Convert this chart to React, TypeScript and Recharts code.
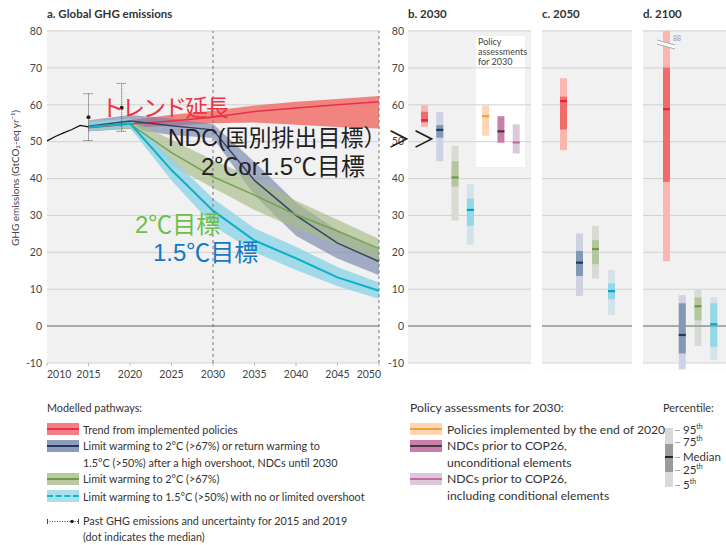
import React from 'react';
import {
  ComposedChart,
  Area,
  Line,
  Bar,
  Cell,
  Scatter,
  ErrorBar,
  XAxis,
  YAxis,
  CartesianGrid,
  ReferenceLine,
} from 'recharts';

// panel a: modelled pathways (GtCO2-eq/yr), 5-year steps
const pathwayYears = [2015, 2020, 2025, 2030, 2035, 2040, 2045, 2050];

const trendMid = [53.8, 54.8, 55.6, 56.6, 58.2, 59.1, 60.0, 60.8];
const trendLow = [52.8, 53.8, 54.3, 55.0, 55.2, 54.6, 54.0, 53.6];
const trendHigh = [54.6, 55.8, 57.3, 58.4, 59.8, 60.8, 61.6, 62.4];

const ndcMid = [54.2, 55.6, 54.3, 53.2, 39.5, 30.0, 22.5, 17.5];
const ndcLow = [52.8, 53.5, 51.8, 51.0, 35.5, 24.5, 18.3, 13.8];
const ndcHigh = [55.8, 57.2, 56.3, 54.8, 44.5, 33.5, 26.0, 20.8];

const twoMid = [54.0, 54.8, 47.0, 40.5, 35.5, 30.2, 25.8, 21.0];
const twoLow = [52.8, 53.5, 43.5, 37.5, 31.5, 26.5, 22.0, 17.5];
const twoHigh = [55.2, 56.0, 50.5, 45.0, 40.0, 34.0, 28.8, 23.6];

const c15Mid = [54.0, 55.0, 42.3, 31.3, 23.2, 18.4, 13.2, 9.6];
const c15Low = [52.8, 53.8, 39.5, 27.3, 20.0, 15.2, 10.8, 7.4];
const c15High = [55.5, 56.2, 45.5, 34.6, 26.5, 21.5, 16.0, 11.8];

// historical emissions
const histYears = [2010, 2011, 2012, 2013, 2014, 2015];
const histValues = [50.2, 51.4, 52.4, 53.3, 54.4, 54.0];

// past GHG emissions with uncertainty
const pastYears = [2015, 2019];
const pastMedian = [56.6, 59.2];
const pastLow = [50.3, 52.8];
const pastHigh = [63.0, 65.8];

const xTicks = [2010, 2015, 2020, 2025, 2030, 2035, 2040, 2045, 2050];
const yTicks = [-10, 0, 10, 20, 30, 40, 50, 60, 70, 80];

// panel b: 2030
const names2030 = ['trend', 'ndc', 'c2', 'c15', 'policies', 'ndcUncond', 'ndcCond'];
const p5_2030 = [54.0, 44.7, 28.6, 22.1, 51.6, 49.7, 46.8];
const p25_2030 = [55.2, 51.1, 37.8, 27.2, null, null, null];
const med_2030 = [55.8, 53.2, 40.3, 31.5, 56.9, 52.8, 49.8];
const p75_2030 = [58.1, 54.5, 44.7, 34.6, null, null, null];
const p95_2030 = [59.9, 58.1, 48.9, 38.5, 59.9, 56.9, 54.7];

// panel c: 2050
const names2050 = ['trend', 'ndc', 'c2', 'c15'];
const p5_2050 = [47.7, 8.2, 12.9, 3.0];
const p25_2050 = [53.3, 13.6, 16.8, 7.3];
const med_2050 = [61.0, 17.2, 20.9, 9.5];
const p75_2050 = [62.2, 20.4, 23.3, 11.6];
const p95_2050 = [67.2, 25.1, 27.2, 15.2];

// panel d: 2100
const names2100 = ['trend', 'ndc', 'c2', 'c15'];
const p5_2100 = [17.6, -11.7, -5.4, -9.2];
const p25_2100 = [39.1, -7.4, 1.6, -5.6];
const med_2100 = [58.8, -2.4, 5.4, 0.5];
const p75_2100 = [70.1, 6.2, 7.8, 6.2];
const p95_2100 = [88, 8.4, 9.9, 7.8];

const boxColors: Record<string, { light: string; dark: string; median: string }> = {
  trend: { light: '#fbb7af', dark: '#f26b6b', median: '#e8213a' },
  ndc: { light: '#cfd2e4', dark: '#8299b6', median: '#1f3860' },
  c2: { light: '#d8dad4', dark: '#b5c59d', median: '#6a9a4a' },
  c15: { light: '#d4e3e9', dark: '#93d8e7', median: '#00a7c4' },
  policies: { light: '#fdd7b4', dark: '#fdd7b4', median: '#f5a030' },
  ndcUncond: { light: '#c97fa9', dark: '#c97fa9', median: '#4a3545' },
  ndcCond: { light: '#dac9db', dark: '#dac9db', median: '#c46a9c' },
};

const uiFont = "Lato, 'Open Sans', sans-serif";
const jpFont = "'Liberation Sans', 'Noto Sans CJK JP', sans-serif";
const Y_MAX = 80;

const band = (lo: number[], mid: number[], hi: number[]) =>
  pathwayYears.map((year, i) => ({ year, range: [lo[i], hi[i]], mid: mid[i] }));

const trendData = band(trendLow, trendMid, trendHigh);
const ndcData = band(ndcLow, ndcMid, ndcHigh);
const twoData = band(twoLow, twoMid, twoHigh);
const c15Data = band(c15Low, c15Mid, c15High);
const histData = histYears.map((year, i) => ({ year, value: histValues[i] }));
const pastData = pastYears.map((year, i) => ({
  year,
  value: pastMedian[i],
  err: [pastMedian[i] - pastLow[i], pastHigh[i] - pastMedian[i]],
}));

const boxes = (names: string[], p5: number[], p25: (number | null)[], med: number[], p75: (number | null)[], p95: number[]) =>
  names.map((name, i) => ({ name, p5: p5[i], p25: p25[i], median: med[i], p75: p75[i], p95: Math.min(p95[i], Y_MAX) }));

const data2030 = boxes(names2030, p5_2030, p25_2030, med_2030, p75_2030, p95_2030);
const data2050 = boxes(names2050, p5_2050, p25_2050, med_2050, p75_2050, p95_2050);
const data2100 = boxes(names2100, p5_2100, p25_2100, med_2100, p75_2100, p95_2100);

const YearTick = (props: any) => {
  const { x, y, payload } = props;
  const v = payload.value;
  const anchor = v === xTicks[0] ? 'start' : v === xTicks[xTicks.length - 1] ? 'end' : 'middle';
  return (
    <text x={anchor === 'end' ? x + 2 : x} y={y} dy="0.71em" textAnchor={anchor} fill="#444" fontSize={10.5} fontFamily={uiFont}>
      {v}
    </text>
  );
};

function BoxPanel({ data, width, padding, showAxis }: any) {
  return (
    <ComposedChart
      width={width}
      height={370.4}
      data={data}
      margin={{ top: 31, right: 0, bottom: 0, left: 0 }}
      barSize={7}
      barGap={-7}
    >
      <CartesianGrid vertical={false} stroke="#d3d3d3" />
      <XAxis dataKey="name" hide padding={padding} />
      <YAxis
        domain={[-12, 80]}
        ticks={yTicks}
        hide={!showAxis}
        width={28}
        axisLine={false}
        tickLine={false}
        tickSize={2}
        tickMargin={2}
        tick={{ fontSize: 10.5, fill: '#444', fontFamily: uiFont }}
        interval={0}
      />
      <ReferenceLine y={0} stroke="#8d9d9b" strokeWidth={1.5} />
      <Bar dataKey={(d: any) => [d.p5, d.p95]} isAnimationActive={false}>
        {data.map((d: any) => (
          <Cell key={d.name} fill={boxColors[d.name].light} />
        ))}
      </Bar>
      <Bar dataKey={(d: any) => (d.p25 == null ? [d.median, d.median] : [d.p25, d.p75])} isAnimationActive={false}>
        {data.map((d: any) => (
          <Cell key={d.name} fill={boxColors[d.name].dark} />
        ))}
      </Bar>
      <Bar dataKey={(d: any) => [d.median - 0.3, d.median + 0.3]} isAnimationActive={false}>
        {data.map((d: any) => (
          <Cell key={d.name} fill={boxColors[d.name].median} />
        ))}
      </Bar>
    </ComposedChart>
  );
}

const Txt = ({ x, y, size = 11.5, color = '#333', weight = 400, font = uiFont, children, style }: any) => (
  <div
    style={{
      position: 'absolute',
      left: x,
      top: y - size * 0.6,
      fontSize: size,
      lineHeight: `${size * 1.2}px`,
      color,
      fontWeight: weight,
      fontFamily: font,
      whiteSpace: 'nowrap',
      zIndex: 5,
      ...style,
    }}
  >
    {children}
  </div>
);

const Swatch = ({ x = 47, y, bg, line, dashed }: any) => (
  <div style={{ position: 'absolute', left: x, top: y - 6, width: 32, height: 12, background: bg }}>
    <div
      style={{
        position: 'absolute',
        left: 0,
        right: 0,
        top: 5,
        borderTop: `2px ${dashed ? 'dashed' : 'solid'} ${line}`,
      }}
    />
  </div>
);

const panelBg = (left: number, width: number) => (
  <div style={{ position: 'absolute', left, top: 30, width, height: 333, background: '#f1f1f1' }} />
);

const Sup = ({ children }: any) => <sup style={{ fontSize: 7, verticalAlign: 'super', lineHeight: 0 }}>{children}</sup>;

const LEFT_LEGEND = 10.8;
const RIGHT_LEGEND = 12.2;

export default function App() {
  return (
    <div style={{ position: 'absolute', left: 0, top: 0, width: 726, height: 545, background: '#fff', overflow: 'hidden' }}>
      {panelBg(47, 332)}
      {panelBg(408, 123)}
      {panelBg(542, 90)}
      {panelBg(643, 83)}
      <div style={{ position: 'absolute', left: 476, top: 36, width: 49, height: 131, background: '#fff' }} />

      {/* a. global GHG emissions */}
      <div style={{ position: 'absolute', left: 0, top: 0 }}>
        <ComposedChart width={390} height={385} margin={{ top: 31, right: 11, bottom: 2, left: 7 }}>
          <CartesianGrid vertical={false} stroke="#d3d3d3" />
          <XAxis
            type="number"
            dataKey="year"
            domain={[2010, 2050]}
            ticks={xTicks}
            interval={0}
            height={20}
            axisLine={false}
            tickLine={{ stroke: '#bbb' }}
            tickSize={3}
            tickMargin={5}
            tick={<YearTick />}
            allowDuplicatedCategory={false}
          />
          <YAxis
            type="number"
            domain={[-10, 80]}
            ticks={yTicks}
            interval={0}
            width={40}
            axisLine={false}
            tickLine={false}
            tickSize={3}
            tickMargin={2}
            tick={{ fontSize: 10.5, fill: '#444', fontFamily: uiFont }}
          />
          <ReferenceLine y={0} stroke="#8d9d9b" strokeWidth={1.5} />
          <ReferenceLine x={2030} stroke="#777" strokeDasharray="3 3" />
          <ReferenceLine x={2050} stroke="#777" strokeDasharray="3 3" />

          <Area data={trendData} dataKey="range" type="linear" fill="#f2716c" fillOpacity={0.85} stroke="none" isAnimationActive={false} />
          <Line data={trendData} dataKey="mid" type="linear" stroke="#e8304a" strokeWidth={1.5} dot={false} isAnimationActive={false} />

          <Area data={ndcData} dataKey="range" type="linear" fill="#7380a8" fillOpacity={0.62} stroke="none" isAnimationActive={false} />
          <Line data={ndcData} dataKey="mid" type="linear" stroke="#34456a" strokeWidth={1.5} dot={false} isAnimationActive={false} />

          <Area data={twoData} dataKey="range" type="linear" fill="#a7bc86" fillOpacity={0.65} stroke="none" isAnimationActive={false} />
          <Line data={twoData} dataKey="mid" type="linear" stroke="#72a356" strokeWidth={1.5} dot={false} isAnimationActive={false} />

          <Area data={c15Data} dataKey="range" type="linear" fill="#8ed5e7" fillOpacity={0.8} stroke="none" isAnimationActive={false} />
          <Line data={c15Data} dataKey="mid" type="linear" stroke="#0db0c8" strokeWidth={2} dot={false} isAnimationActive={false} />

          <Line data={histData} dataKey="value" type="linear" stroke="#111" strokeWidth={1.3} dot={false} isAnimationActive={false} />

          <Scatter data={pastData} dataKey="value" fill="#222" isAnimationActive={false} shape={(p: any) => <circle cx={p.cx} cy={p.cy} r={2} fill="#222" />}>
            <ErrorBar dataKey="err" direction="y" width={5} stroke="#555" strokeDasharray="1 1" strokeWidth={1} />
          </Scatter>
        </ComposedChart>
      </div>

      {/* b. 2030 */}
      <div style={{ position: 'absolute', left: 380, top: 0 }}>
        <BoxPanel data={data2030} width={151} padding={{ left: 9, right: 7 }} showAxis />
      </div>
      {/* c. 2050 */}
      <div style={{ position: 'absolute', left: 542, top: 0 }}>
        <BoxPanel data={data2050} width={90} padding={{ left: 13, right: 13 }} />
      </div>
      {/* d. 2100 */}
      <div style={{ position: 'absolute', left: 643, top: 0 }}>
        <BoxPanel data={data2100} width={83} padding={{ left: 16, right: 4 }} />
      </div>

      {/* axis break on the 2100 trend bar */}
      <svg style={{ position: 'absolute', left: 655, top: 36 }} width={24} height={18}>
        <polygon points="2,4 20,9 20,13 2,8" fill="#fff" />
        <line x1={2} y1={4} x2={20} y2={9} stroke="#aaa" />
        <line x1={2} y1={8} x2={20} y2={13} stroke="#aaa" />
      </svg>
      <Txt x={673} y={38} size={7} color="#999">88</Txt>

      {/* titles */}
      <Txt x={47} y={14} weight={700} color="#333">a. Global GHG emissions</Txt>
      <Txt x={408} y={14} weight={700} color="#333">b. 2030</Txt>
      <Txt x={542} y={14} weight={700} color="#333">c. 2050</Txt>
      <Txt x={643} y={14} weight={700} color="#333">d. 2100</Txt>

      <Txt x={478} y={42} size={9} color="#444">Policy</Txt>
      <Txt x={478} y={52} size={9} color="#444">assessments</Txt>
      <Txt x={478} y={62} size={9} color="#444">for 2030</Txt>

      <div
        style={{
          position: 'absolute',
          left: 15 - 80,
          top: 178 - 6,
          width: 160,
          height: 12,
          lineHeight: '12px',
          textAlign: 'center',
          fontSize: 10,
          color: '#444',
          fontFamily: uiFont,
          transform: 'rotate(-90deg)',
          whiteSpace: 'nowrap',
        }}
      >
        GHG emissions (GtCO₂-eq yr⁻¹)
      </div>

      {/* Japanese annotations */}
      <Txt x={101} y={109} size={23} font={jpFont} color="#ef3346" style={{ letterSpacing: -2 }}>トレンド延長</Txt>
      <Txt x={168} y={139} size={23} font={jpFont} color="#222">NDC(国別排出目標）</Txt>
      <svg style={{ position: 'absolute', left: 380, top: 125, zIndex: 6 }} width={60} height={30}>
        <text x={19} y={22} textAnchor="middle" fontSize={23} fontFamily={jpFont} fill="#222">＞</text>
        <text x={44} y={22} textAnchor="middle" fontSize={23} fontFamily={jpFont} fill="#222">＞</text>
      </svg>
      <Txt x={201} y={167} size={24} font={jpFont} color="#222">2℃or1.5℃目標</Txt>
      <Txt x={135} y={225} size={24} font={jpFont} color="#6dbf4b">2℃目標</Txt>
      <Txt x={153} y={253} size={24} font={jpFont} color="#1577c4">1.5℃目標</Txt>

      {/* legend: modelled pathways */}
      <Txt x={47} y={408} size={LEFT_LEGEND}>Modelled pathways:</Txt>
      <Swatch y={429} bg="#f27f88" line="#e8304a" />
      <Txt x={83} y={430} size={LEFT_LEGEND}>Trend from implemented policies</Txt>
      <Swatch y={446} bg="#8f9bbb" line="#1f3860" />
      <Txt x={83} y={446} size={LEFT_LEGEND}>Limit warming to 2°C (&gt;67%) or return warming to</Txt>
      <Txt x={83} y={463} size={LEFT_LEGEND}>1.5°C (&gt;50%) after a high overshoot, NDCs until 2030</Txt>
      <Swatch y={478.5} bg="#b9c9a2" line="#6a9a4a" />
      <Txt x={83} y={479} size={LEFT_LEGEND}>Limit warming to 2°C (&gt;67%)</Txt>
      <Swatch y={496} bg="#a8e0ec" line="#1ab3c8" dashed />
      <Txt x={83} y={497} size={LEFT_LEGEND}>Limit warming to 1.5°C (&gt;50%) with no or limited overshoot</Txt>
      <svg style={{ position: 'absolute', left: 45, top: 516 }} width={36} height={12}>
        <line x1={2} y1={5.5} x2={34} y2={5.5} stroke="#444" strokeDasharray="1 1.5" />
        <line x1={2.5} y1={3} x2={2.5} y2={8} stroke="#444" />
        <line x1={33.5} y1={3} x2={33.5} y2={8} stroke="#444" />
        <circle cx={27} cy={5.5} r={1.8} fill="#222" />
      </svg>
      <Txt x={83} y={521} size={LEFT_LEGEND}>Past GHG emissions and uncertainty for 2015 and 2019</Txt>
      <Txt x={83} y={537} size={LEFT_LEGEND}>(dot indicates the median)</Txt>

      {/* legend: policy assessments */}
      <Txt x={410} y={408} size={RIGHT_LEGEND}>Policy assessments for 2030:</Txt>
      <Swatch x={410} y={429} bg="#fdd7b4" line="#f5a030" />
      <Swatch x={410} y={446} bg="#c97fa9" line="#4a3545" />
      <Swatch x={410} y={479} bg="#dac9db" line="#c46a9c" />
      <Txt x={447} y={430} size={RIGHT_LEGEND}>Policies implemented by the end of 2020</Txt>
      <Txt x={447} y={446} size={RIGHT_LEGEND}>NDCs prior to COP26,</Txt>
      <Txt x={447} y={463} size={RIGHT_LEGEND}>unconditional elements</Txt>
      <Txt x={447} y={479} size={RIGHT_LEGEND}>NDCs prior to COP26,</Txt>
      <Txt x={447} y={496} size={RIGHT_LEGEND}>including conditional elements</Txt>

      {/* legend: percentile */}
      <Txt x={663} y={408} size={11}>Percentile:</Txt>
      <div style={{ position: 'absolute', left: 665, top: 428, width: 8, height: 16, background: '#d9d9d9' }} />
      <div style={{ position: 'absolute', left: 665, top: 444, width: 8, height: 28, background: '#9a9a9a' }} />
      <div style={{ position: 'absolute', left: 665, top: 472, width: 8, height: 15, background: '#d9d9d9' }} />
      <div style={{ position: 'absolute', left: 665, top: 456, width: 8, height: 2, background: '#222' }} />
      {[430, 442, 457, 470, 485].map((ty) => (
        <div key={ty} style={{ position: 'absolute', left: 675, top: ty, width: 5, height: 1, background: '#aaa' }} />
      ))}
      <Txt x={683} y={430} size={11.5}>95<Sup>th</Sup></Txt>
      <Txt x={683} y={442} size={11.5}>75<Sup>th</Sup></Txt>
      <Txt x={683} y={457} size={11.5}>Median</Txt>
      <Txt x={683} y={470} size={11.5}>25<Sup>th</Sup></Txt>
      <Txt x={683} y={485} size={11.5}>5<Sup>th</Sup></Txt>
    </div>
  );
}
